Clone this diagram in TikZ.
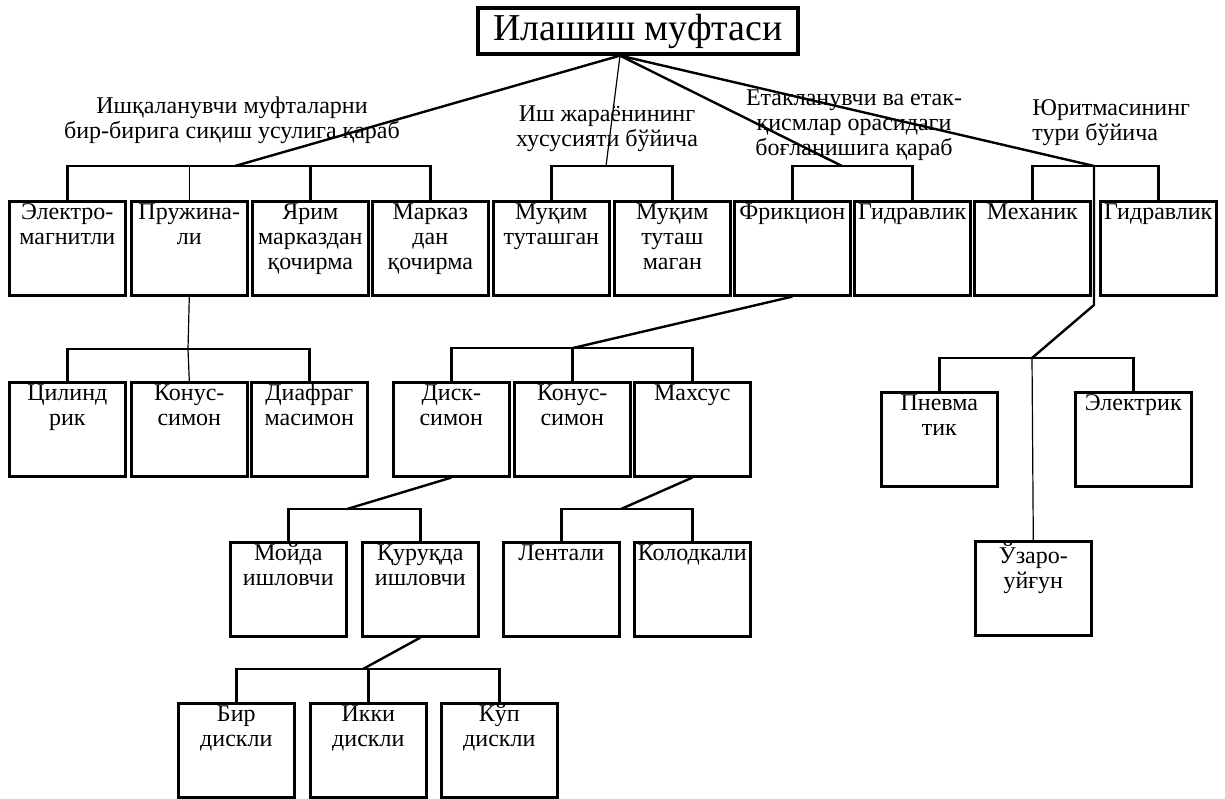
\documentclass[tikz,border=0pt]{standalone}
\usepackage{fontspec}
\setmainfont{Liberation Serif}
\usetikzlibrary{calc}

\begin{document}
\begin{tikzpicture}[
  x=0.5pt, y=-0.5pt,
  cell/.style = {draw=black, line width=1.3pt, anchor=north west, inner sep=1pt,
                 font=\fontsize{12}{12.5}\selectfont,
                 execute at begin node={\begin{minipage}[t][45pt][t]{56pt}\centering},
                 execute at end node={\end{minipage}}},
  ttl/.style  = {draw=black, line width=1.6pt, minimum width=160pt, minimum height=23pt,
                 inner sep=0pt, font=\fontsize{19}{22}\selectfont},
  lab/.style  = {align=center, inner sep=0pt, font=\fontsize{12}{12.5}\selectfont},
  ln/.style   = {line width=1.2pt},
  lnt/.style  = {line width=0.6pt},
]
\useasboundingbox (0,0) rectangle (1225,798);
\node[ttl] (tt) at (638,31) {Илашиш муфтаси};
\node[lab] (l1) at (232,120) {Ишқаланувчи муфталарни\\бир-бирига сиқиш усулига қараб};
\node[lab] (l2) at (607,129) {Иш жараёнининг\\хусусияти бўйича};
\node[lab] (l3) at (854,125) {Етакланувчи ва етак-\\қисмлар орасидаги\\боғланишига қараб};
\node[lab, align=left, anchor=west] (l4) at (1032,123) {Юритмасининг\\тури бўйича};
\node[cell] (em) at (8,200) {Электро-\\магнитли};
\node[cell] (pr) at (130,200) {Пружина-\\ли};
\node[cell] (ya) at (251,200) {Ярим\\марказдан\\қочирма};
\node[cell] (mk) at (371,200) {Марказ\\дан\\қочирма};
\node[cell] (mt1) at (492,200) {Муқим\\туташган};
\node[cell] (mt2) at (613,200) {Муқим\\туташ\\маган};
\node[cell] (fr) at (733,200) {Фрикцион};
\node[cell] (gd1) at (853,200) {Гидравлик};
\node[cell] (mx) at (973,200) {Механик};
\node[cell] (gd2) at (1099,200) {Гидравлик};
\node[cell] (cy) at (8,381) {Цилинд\\рик};
\node[cell] (ko1) at (130,381) {Конус-\\симон};
\node[cell] (di) at (250,381) {Диафраг\\масимон};
\node[cell] (ds) at (392,381) {Диск-\\симон};
\node[cell] (ko2) at (513,381) {Конус-\\симон};
\node[cell] (ma) at (633,381) {Махсус};
\node[cell] (pn) at (880,391) {Пневма\\тик};
\node[cell] (el) at (1074,391) {Электрик};
\node[cell] (uz) at (974,540) {Ўзаро-\\уйғун};
\node[cell] (mo) at (229,541) {Мойда\\ишловчи};
\node[cell] (qu) at (361,541) {Қуруқда\\ишловчи};
\node[cell] (le) at (502,541) {Лентали};
\node[cell] (kl) at (633,541) {Колодкали};
\node[cell] (b1) at (177,702) {Бир\\дискли};
\node[cell] (b2) at (309,702) {Икки\\дискли};
\node[cell] (b3) at (440,702) {Кўп\\дискли};
\coordinate (hub) at ($(tt.south)+(-18,0)$);
\coordinate (j1) at (235,166);
\coordinate (j2) at (606,166);
\coordinate (j3) at (842,166);
\coordinate (j4) at (1094,166);
\coordinate (k4) at (1094,305);
\coordinate (j5) at (1032,358);
\coordinate (j6) at (188,349);
\coordinate (j7) at (573,348);
\coordinate (j8) at (347,509);
\coordinate (j9) at (621,509);
\coordinate (j10) at (363,669);
\draw[ln] (hub) -- (j1);
\draw[lnt] (hub) -- (j2);
\draw[ln] (hub) -- (j3);
\draw[ln] (hub) -- (j4);
\draw[ln] (em.north) -- (em.north |- j1) -- (mk.north |- j1) -- (mk.north);
\draw[lnt] (pr.north) -- (pr.north |- j1);
\draw[ln] (ya.north) -- (ya.north |- j1);
\draw[ln] (mt1.north) -- (mt1.north |- j2) -- (mt2.north |- j2) -- (mt2.north);
\draw[ln] (fr.north) -- (fr.north |- j3) -- (gd1.north |- j3) -- (gd1.north);
\draw[ln] (mx.north) -- (mx.north |- j4) -- (gd2.north |- j4) -- (gd2.north);
\draw[ln] (j4) -- (k4) -- (j5);
\draw[ln] (pn.north) -- (pn.north |- j5) -- (el.north |- j5) -- (el.north);
\draw[lnt] (j5) -- (uz.north);
\draw[lnt] (pr.south) -- (j6);
\draw[ln] (cy.north) -- (cy.north |- j6) -- (di.north |- j6) -- (di.north);
\draw[lnt] (ko1.north) -- (j6);
\draw[ln] (fr.south) -- (j7);
\draw[ln] (ds.north) -- (ds.north |- j7) -- (ma.north |- j7) -- (ma.north);
\draw[ln] (ko2.north) -- (ko2.north |- j7);
\draw[ln] (ds.south) -- (j8);
\draw[ln] (mo.north) -- (mo.north |- j8) -- (qu.north |- j8) -- (qu.north);
\draw[ln] (ma.south) -- (j9);
\draw[ln] (le.north) -- (le.north |- j9) -- (kl.north |- j9) -- (kl.north);
\draw[ln] (qu.south) -- (j10);
\draw[ln] (b1.north) -- (b1.north |- j10) -- (b3.north |- j10) -- (b3.north);
\draw[ln] (b2.north) -- (b2.north |- j10);
\end{tikzpicture}
\end{document}
